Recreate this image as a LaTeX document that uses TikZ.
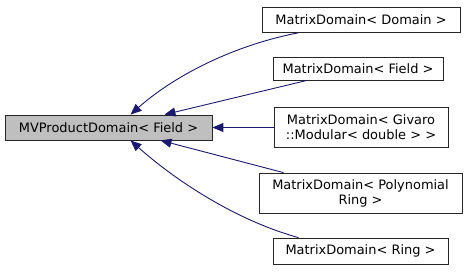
\documentclass[tikz,border=0pt]{standalone}
\usepackage{fontspec}
\setmainfont{DejaVu Sans}
\usetikzlibrary{arrows.meta}
\definecolor{edgeblue}{HTML}{191970}
\definecolor{basegray}{HTML}{BFBFBF}
\begin{document}
\begin{tikzpicture}[x=1bp,y=-1bp,
  cls/.style={draw=black!85,line width=0.8bp,fill=white,inner sep=0pt,
    align=center,font=\fontsize{13}{15}\selectfont},
  inh/.style={draw=edgeblue,line width=0.9bp,
    {Triangle[length=11bp,width=9bp,fill=edgeblue]}-}]
\useasboundingbox (0,0) rectangle (468,271);
% base class
\node[cls,fill=basegray,minimum width=207bp,minimum height=25bp] (base) at (108.5,127.5) {MVProductDomain< Field >};
% derived classes
\node[cls,minimum width=198bp,minimum height=25bp] (n1) at (361,20) {MatrixDomain< Domain >};
\node[cls,minimum width=170bp,minimum height=23bp] (n2) at (358,68.5) {MatrixDomain< Field >};
\node[cls,minimum width=174bp,minimum height=40bp] (n3) at (361,127) {MatrixDomain< Givaro\\::Modular< double > >};
\node[cls,minimum width=203bp,minimum height=40bp] (n4) at (360.5,193) {MatrixDomain< Polynomial\\Ring >};
\node[cls,minimum width=175bp,minimum height=26bp] (n5) at (360.5,251) {MatrixDomain< Ring >};
% inheritance edges
\draw[inh] ([xshift=22bp]base.north) .. controls (175,75) and (235,45) .. ([xshift=-63bp]n1.south);
\draw[inh] ([xshift=56bp]base.north) -- ([xshift=-51bp]n2.south);
\draw[inh] (base.east) -- (n3.west |- base.east);
\draw[inh] ([xshift=52bp]base.south) -- ([xshift=-77bp]n4.north);
\draw[inh] ([xshift=22bp]base.south) .. controls (175,180) and (235,220) .. ([xshift=-62bp]n5.north);
\end{tikzpicture}
\end{document}
